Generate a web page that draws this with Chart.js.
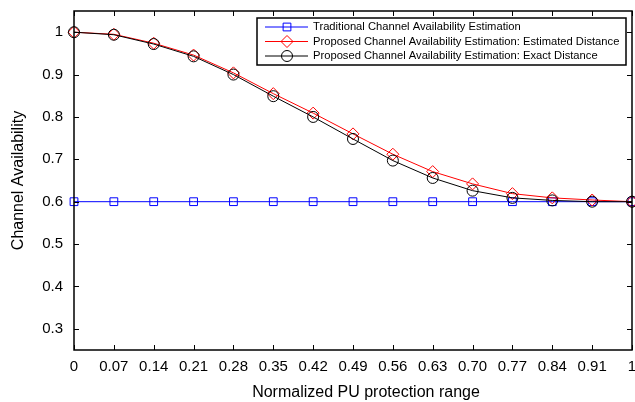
<!DOCTYPE html>
<html>
<head>
<meta charset="utf-8">
<script src="https://cdn.jsdelivr.net/npm/chart.js@4.4.1/dist/chart.umd.min.js"></script>
<style>
  html, body { margin: 0; padding: 0; background: #fff; }
  #wrap { width: 635px; height: 402px; position: relative; }
</style>
</head>
<body>
<div id="wrap"><canvas id="chartCanvas"></canvas></div>
<script>
const xLabels = ['0', '0.07', '0.14', '0.21', '0.28', '0.35', '0.42', '0.49', '0.56', '0.63', '0.70', '0.77', '0.84', '0.91', '1'];
const yTicks = [0.3, 0.4, 0.5, 0.6, 0.7, 0.8, 0.9, 1];
const traditional = [0.6, 0.6, 0.6, 0.6, 0.6, 0.6, 0.6, 0.6, 0.6, 0.6, 0.6, 0.6, 0.6, 0.6, 0.6];
const estimatedDist = [1, 0.995, 0.974, 0.946, 0.904, 0.855, 0.809, 0.760, 0.712, 0.671, 0.642, 0.619, 0.609, 0.604, 0.600];
const exactDist = [1, 0.994, 0.972, 0.943, 0.900, 0.849, 0.800, 0.748, 0.697, 0.656, 0.626, 0.609, 0.603, 0.600, 0.600];

const seriesNames = [
    'Traditional Channel Availability Estimation',
    'Proposed Channel Availability Estimation: Estimated Distance',
    'Proposed Channel Availability Estimation: Exact Distance'
];
const xTitle = 'Normalized PU protection range';
const yTitle = 'Channel Availability';

const fontFamily = '"Liberation Sans", Arial, sans-serif';

// frame + inward ticks + axis titles + legend box, drawn like the matlab figure
const frameAndLegend = {
    id: 'frameAndLegend',
    afterDraw(chart) {
        const ctx = chart.ctx;
        const area = chart.chartArea;
        const xs = chart.scales.x;
        const ys = chart.scales.y;
        ctx.save();
        ctx.strokeStyle = '#000';
        ctx.lineWidth = 1.5;
        ctx.strokeRect(area.left, area.top, area.right - area.left, area.bottom - area.top);

        ctx.lineWidth = 1;
        ctx.beginPath();
        xLabels.forEach((lab, i) => {
            const px = Math.round(xs.getPixelForValue(i)) + 0.5;
            ctx.moveTo(px, area.bottom);
            ctx.lineTo(px, area.bottom - 5);
            ctx.moveTo(px, area.top);
            ctx.lineTo(px, area.top + 5);
        });
        yTicks.forEach(v => {
            const py = Math.round(ys.getPixelForValue(v)) + 0.5;
            ctx.moveTo(area.left, py);
            ctx.lineTo(area.left + 5, py);
            ctx.moveTo(area.right, py);
            ctx.lineTo(area.right - 5, py);
        });
        ctx.stroke();

        // axis titles
        ctx.fillStyle = '#000';
        ctx.font = '16px ' + fontFamily;
        ctx.textAlign = 'center';
        ctx.textBaseline = 'alphabetic';
        ctx.fillText(xTitle, 366, 397);
        ctx.save();
        ctx.translate(22.5, (area.top + area.bottom) / 2);
        ctx.rotate(-Math.PI / 2);
        ctx.fillText(yTitle, 0, 0);
        ctx.restore();

        // legend
        const box = { x: 257, y: 18, w: 369, h: 47 };
        ctx.fillStyle = '#fff';
        ctx.fillRect(box.x, box.y, box.w, box.h);
        ctx.strokeStyle = '#000';
        ctx.lineWidth = 1.5;
        ctx.strokeRect(box.x, box.y, box.w, box.h);
        ctx.font = '11.2px ' + fontFamily;
        ctx.textBaseline = 'middle';
        ctx.textAlign = 'left';
        chart.data.datasets.forEach((ds, i) => {
            const rowY = box.y + 9 + i * 14.5;
            ctx.strokeStyle = ds.borderColor;
            ctx.lineWidth = 1;
            ctx.beginPath();
            ctx.moveTo(265, rowY);
            ctx.lineTo(308, rowY);
            ctx.stroke();
            ctx.fillStyle = 'rgba(0,0,0,0)';
            Chart.helpers.drawPoint(ctx, {
                pointStyle: ds.pointStyle,
                radius: ds.pointRadius,
                borderWidth: 1
            }, 287, rowY);
            ctx.fillStyle = '#000';
            ctx.fillText(seriesNames[i], 313, rowY);
        });
        ctx.restore();
    }
};

const ctx = document.getElementById('chartCanvas').getContext('2d');

const chart = new Chart(ctx, {
    type: 'line',
    data: {
        labels: xLabels,
        datasets: [
            {
                label: seriesNames[0],
                data: traditional,
                borderColor: '#0000ff',
                backgroundColor: 'rgba(0,0,0,0)',
                borderWidth: 1,
                pointStyle: 'rect',
                pointRadius: 5.5,
                pointBorderWidth: 1,
                clip: false,
                order: 2
            },
            {
                label: seriesNames[1],
                data: estimatedDist,
                borderColor: '#ff0000',
                backgroundColor: 'rgba(0,0,0,0)',
                borderWidth: 1,
                pointStyle: 'rectRot',
                pointRadius: 6,
                pointBorderWidth: 1,
                clip: false,
                order: 1
            },
            {
                label: seriesNames[2],
                data: exactDist,
                borderColor: '#000000',
                backgroundColor: 'rgba(0,0,0,0)',
                borderWidth: 1,
                pointStyle: 'circle',
                pointRadius: 5.5,
                pointBorderWidth: 1,
                clip: false,
                order: 0
            }
        ]
    },
    options: {
        responsive: true,
        maintainAspectRatio: false,
        animation: false,
        layout: { autoPadding: false, padding: { top: 11, right: 3, left: 0, bottom: 0 } },
        plugins: {
            legend: { display: false },
            tooltip: { enabled: false }
        },
        elements: { line: { tension: 0 } },
        scales: {
            x: {
                type: 'category',
                offset: false,
                grid: { display: false, drawTicks: false },
                border: { display: false },
                ticks: {
                    color: '#000',
                    font: { family: fontFamily, size: 15 },
                    padding: 8,
                    maxRotation: 0,
                    autoSkip: false
                },
                afterFit(scale) {
                    scale.height = 52;
                    scale.paddingLeft = 0;
                    scale.paddingRight = 0;
                }
            },
            y: {
                min: 0.25,
                max: 1.05,
                grid: { display: false, drawTicks: false },
                border: { display: false },
                afterBuildTicks(scale) {
                    scale.ticks = yTicks.map(v => ({ value: v }));
                },
                ticks: {
                    color: '#000',
                    font: { family: fontFamily, size: 15 },
                    padding: 11,
                    callback: v => (v === 1 ? '1' : v.toFixed(1))
                },
                afterFit(scale) {
                    scale.width = 74;
                    scale.paddingTop = 0;
                    scale.paddingBottom = 0;
                }
            }
        }
    },
    plugins: [frameAndLegend]
});
</script>
</body>
</html>
